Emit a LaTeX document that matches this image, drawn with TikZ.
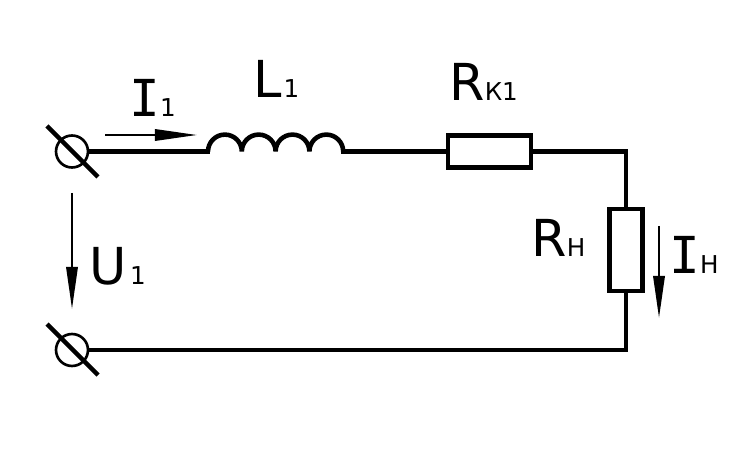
\documentclass[tikz,border=0pt]{standalone}
\usepackage{fontspec}
\setmainfont{DejaVu Sans}
\newfontfamily\monof{DejaVu Sans Mono}
\usetikzlibrary{arrows.meta}
\newcommand{\bigf}{\fontsize{29}{30}\selectfont}
\newcommand{\subf}{\fontsize{14}{16}\selectfont}
\tikzstyle{wire} = [
    line width=2.6pt,
    line cap=rect
]
\tikzstyle{resistor} = [
    rectangle,
    draw,
    line width=2.6pt,
    inner sep=0pt
]
\tikzstyle{terminal} = [
    circle,
    draw,
    line width=1.5pt,
    minimum size=0.64cm,
    inner sep=0pt
]
\tikzstyle{current} = [
    line width=1.2pt,
    -{Triangle[length=24pt,width=6.5pt]}
]
\tikzstyle{label} = [
    anchor=base west,
    inner sep=0pt
]

\begin{document}
\begin{tikzpicture}[x=0.02cm,y=-0.02cm]
    \useasboundingbox (0,0) rectangle (739,472);

    % Terminals
    \node[terminal] (termA) at (72,151.5) {};
    \node[terminal] (termB) at (72,350) {};
    \draw[wire, line cap=butt] (47,126) -- (98,177);
    \draw[wire, line cap=butt] (47,324) -- (98,375);

    % Resistors
    \node[resistor, minimum width=1.66cm, minimum height=0.64cm] (rk) at (489.5,151.5) {};
    \node[resistor, minimum width=0.66cm, minimum height=1.64cm] (rn) at (626,250) {};

    % Inductor
    \coordinate (coilin) at (208,151.5);
    \coordinate (coilout) at (343,151.5);
    \draw[wire, line cap=butt, line join=bevel] (coilin)
        arc[start angle=180, end angle=360, radius=16.9]
        arc[start angle=180, end angle=360, radius=16.9]
        arc[start angle=180, end angle=360, radius=16.9]
        arc[start angle=180, end angle=360, radius=16.9];

    % Wires
    \coordinate (cornerA) at (626,151.5);
    \coordinate (cornerB) at (626,350);
    \draw[wire] (termA) -- (coilin);
    \draw[wire] (coilout) -- (rk);
    \draw[wire] (rk) -- (cornerA) -- (rn);
    \draw[wire] (rn) -- (cornerB) -- (termB);

    % Current and voltage arrows
    \coordinate (iAstart) at (105,135);
    \coordinate (iAend) at (197,135);
    \coordinate (uAstart) at (72,193);
    \coordinate (uAend) at (72,309);
    \coordinate (iNstart) at (659,226);
    \coordinate (iNend) at (659,318);
    \draw[current] (iAstart) -- (iAend);
    \draw[current] (uAstart) -- (uAend);
    \draw[current] (iNstart) -- (iNend);

    % Labels
    \node[label] (lblIA) at (129,117) {\bigf\monof I\subf\normalfont 1};
    \node[label] (lblL) at (253,98) {\bigf L\subf\hspace{1pt}1};
    \node[label] (lblRK) at (449,101) {\bigf R\subf К1};
    \node[label] (lblRN) at (531,257) {\bigf R\subf Н};
    \node[label] (lblIN) at (669,274) {\bigf\monof I\subf\normalfont Н};
    \node[label] (lblU) at (89,285) {\bigf U\subf\hspace{2pt}1};
\end{tikzpicture}
\end{document}
